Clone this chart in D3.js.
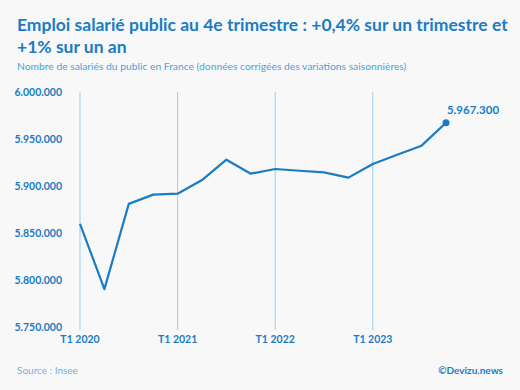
<!DOCTYPE html>
<html>
<head>
<meta charset="utf-8">
<script src="https://cdn.jsdelivr.net/npm/d3@7"></script>
<style>
  body { margin: 0; background: #f8f8f8; }
  svg { display: block; font-family: Lato, "Open Sans", sans-serif; }
</style>
</head>
<body>
<svg id="chart"></svg>
<script>
// Emploi salarié public, données CVS
const quarters = ["T1 2020", "T2 2020", "T3 2020", "T4 2020",
                  "T1 2021", "T2 2021", "T3 2021", "T4 2021",
                  "T1 2022", "T2 2022", "T3 2022", "T4 2022",
                  "T1 2023", "T2 2023", "T3 2023", "T4 2023"];
const salaries = [5859800, 5790300, 5881000, 5890800,
                  5891800, 5906300, 5928000, 5913100,
                  5918100, 5916200, 5914500, 5908900,
                  5923400, 5933300, 5942900, 5967300];
const yTicks = [5750000, 5800000, 5850000, 5900000, 5950000, 6000000];
const xTicks = ["T1 2020", "T1 2021", "T1 2022", "T1 2023"];

const W = 520, H = 390;
const margin = {top: 92, right: 74, bottom: 63, left: 80};
const blue = "#1a7cc4";

const svg = d3.select("#chart").attr("width", W).attr("height", H);
svg.append("rect").attr("width", W).attr("height", H).attr("fill", "#f8f8f8");

const x = d3.scalePoint()
    .domain(quarters)
    .range([margin.left, margin.left + 24.4 * (quarters.length - 1)]);

const y = d3.scaleLinear()
    .domain([5750000, 6000000])
    .range([H - margin.bottom, margin.top]);

const fmt = v => d3.format(",")(v).replace(/,/g, ".");

// titre
svg.append("text")
    .attr("x", 17).attr("y", 31)
    .attr("fill", blue).attr("font-size", 17.5).attr("font-weight", 700)
    .text("Emploi salarié public au 4e trimestre : +0,4% sur un trimestre et");
svg.append("text")
    .attr("x", 17).attr("y", 53)
    .attr("fill", blue).attr("font-size", 17.5).attr("font-weight", 700)
    .text("+1% sur un an");
svg.append("text")
    .attr("x", 17).attr("y", 70)
    .attr("fill", "#4aa3dc").attr("font-size", 10.3)
    .text("Nombre de salariés du public en France (données corrigées des variations saisonnières)");

// grille verticale
svg.append("g")
  .selectAll("line")
  .data(xTicks)
  .enter().append("line")
    .attr("x1", d => x(d)).attr("x2", d => x(d))
    .attr("y1", y(6000000)).attr("y2", y(5750000) + 3)
    .attr("stroke", "#9ccbee").attr("stroke-width", 1);

// axe x
svg.append("g")
  .selectAll("text")
  .data(xTicks)
  .enter().append("text")
    .attr("x", d => x(d)).attr("y", 343)
    .attr("text-anchor", "middle")
    .attr("fill", blue).attr("font-size", 10.5).attr("font-weight", 700)
    .text(d => d);

// axe y
svg.append("g")
  .selectAll("text")
  .data(yTicks)
  .enter().append("text")
    .attr("x", 62).attr("y", d => y(d) + 4)
    .attr("text-anchor", "end")
    .attr("fill", blue).attr("font-size", 10.5).attr("font-weight", 700)
    .text(d => fmt(d));

// courbe
const line = d3.line()
    .x((d, i) => x(quarters[i]))
    .y(d => y(d));

svg.append("path")
    .datum(salaries)
    .attr("fill", "none")
    .attr("stroke", blue)
    .attr("stroke-width", 2.2)
    .attr("stroke-linejoin", "round")
    .attr("d", line);

const last = salaries.length - 1;
svg.append("circle")
    .attr("cx", x(quarters[last])).attr("cy", y(salaries[last]))
    .attr("r", 3.5).attr("fill", blue);

svg.append("text")
    .attr("x", x(quarters[last]) + 27).attr("y", y(salaries[last]) - 9)
    .attr("text-anchor", "middle")
    .attr("fill", blue).attr("font-size", 11.5).attr("font-weight", 700)
    .text(fmt(salaries[last]));

// pied
svg.append("text")
    .attr("x", 17).attr("y", 374)
    .attr("fill", "#6fb3e3").attr("font-size", 10)
    .text("Source : Insee");
svg.append("text")
    .attr("x", 503).attr("y", 374)
    .attr("text-anchor", "end")
    .attr("fill", blue).attr("font-size", 10).attr("font-weight", 700)
    .text("©Devizu.news");
</script>
</body>
</html>
